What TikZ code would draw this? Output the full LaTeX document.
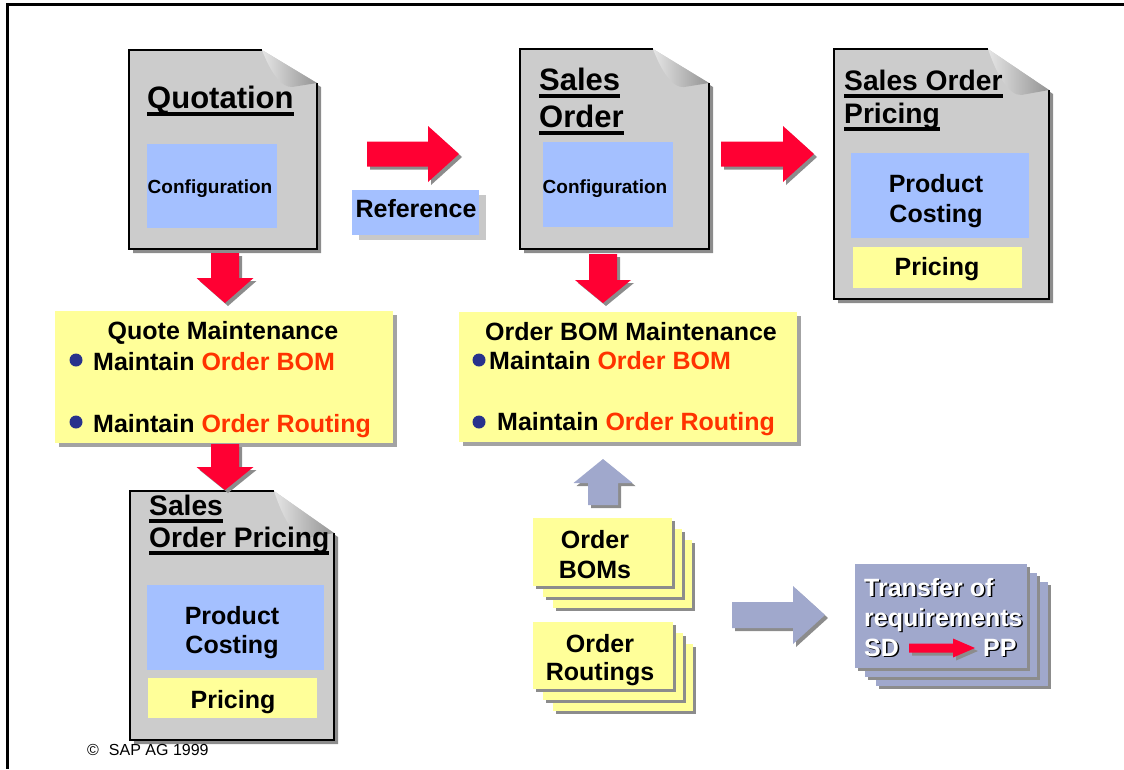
\documentclass[tikz,border=0pt]{standalone}
\usepackage{fontspec}
\setmainfont{Liberation Sans}
\definecolor{docgray}{RGB}{204,204,204}
\definecolor{bluec}{RGB}{164,192,255}
\definecolor{yellowc}{RGB}{255,255,153}
\definecolor{redc}{RGB}{255,0,51}
\definecolor{lavc}{RGB}{160,168,204}
\definecolor{orangec}{RGB}{255,51,0}
\definecolor{navyc}{RGB}{40,50,140}
\definecolor{shadowc}{RGB}{140,140,140}
\definecolor{lightshadow}{RGB}{200,200,200}
\newcommand\tul[1]{\setbox0\hbox{#1}\rlap{\rule[-7.5pt]{\wd0}{3.5pt}}\box0}
% document page with folded corner: L T R B FX FY
\newcommand\docpage[6]{%
  \fill[shadowc] (#1+4,#2+4) -- (#5+4,#2+4) -- (#3+4,#6+4) -- (#3+4,#4+4) -- (#1+4,#4+4) -- cycle;
  \fill[docgray] (#1,#2) -- (#5,#2) -- (#3,#6) -- (#3,#4) -- (#1,#4) -- cycle;
  \draw[line width=1.5pt] (#5,#2) -- (#1,#2) -- (#1,#4) -- (#3,#4) -- (#3,#6);
  \shade[left color=gray!20, right color=gray!85] (#5,#2) .. controls ({#5+0.15*(#3-#5)},{#2+0.65*(#6-#2)}) and ({#5+0.35*(#3-#5)},{#6+0.15*(#6-#2)}) .. ({#5+0.55*(#3-#5)},{#6+0.12*(#6-#2)}) -- (#3,#6) -- cycle;
}
% right block arrow: color x0 x1 x2 yc h H
\newcommand\rarr[7]{%
  \fill[shadowc] (#2+3,#5-#6+3) -- (#3+3,#5-#6+3) -- (#3+3,#5-#7+3) -- (#4+3,#5+3) -- (#3+3,#5+#7+3) -- (#3+3,#5+#6+3) -- (#2+3,#5+#6+3) -- cycle;
  \fill[#1] (#2,#5-#6) -- (#3,#5-#6) -- (#3,#5-#7) -- (#4,#5) -- (#3,#5+#7) -- (#3,#5+#6) -- (#2,#5+#6) -- cycle;}
% vertical block arrow: color xc y0 y1 y2 h H
\newcommand\varr[7]{%
  \fill[shadowc] (#2-#6+3,#3+3) -- (#2+#6+3,#3+3) -- (#2+#6+3,#4+3) -- (#2+#7+3,#4+3) -- (#2+3,#5+3) -- (#2-#7+3,#4+3) -- (#2-#6+3,#4+3) -- cycle;
  \fill[#1] (#2-#6,#3) -- (#2+#6,#3) -- (#2+#6,#4) -- (#2+#7,#4) -- (#2,#5) -- (#2-#7,#4) -- (#2-#6,#4) -- cycle;}
% box with shadow: x1 y1 x2 y2 color dx dy shadowcolor
\newcommand\shbox[8]{%
  \fill[#8] (#1+#6,#2+#7) rectangle (#3+#6,#4+#7);
  \fill[#5] (#1,#2) rectangle (#3,#4);}
\tikzset{
  every node/.style={inner sep=0pt},
  ttlA/.style={anchor=base west, font=\fontsize{31}{36}\selectfont\bfseries},
  ttlB/.style={anchor=base west, font=\fontsize{28.2}{34}\selectfont\bfseries},
  txt/.style={anchor=base, font=\fontsize{25}{29}\selectfont\bfseries},
  txtw/.style={anchor=base west, font=\fontsize{25}{29}\selectfont\bfseries},
  conf/.style={anchor=base, font=\fontsize{19}{22}\selectfont\bfseries},
  bul/.style={fill=navyc},
}
\begin{document}
\begin{tikzpicture}[x=1pt,y=-1pt]
\useasboundingbox (0,0) rectangle (1124,769);
% frame
\draw[line width=3pt] (1124,4.5) -- (7.5,4.5) -- (7.5,769);

% documents
\docpage{129}{50}{317}{249}{262}{83}
\docpage{520}{49}{709}{249}{653}{83}
\docpage{834}{49}{1049}{299}{988}{90}
\docpage{130}{491}{334}{740}{274}{533}

% inner boxes
\fill[bluec] (147,144) rectangle (277,228);
\fill[bluec] (543,142) rectangle (673,227);
\fill[bluec] (851,153) rectangle (1029,238);
\fill[bluec] (147,585) rectangle (324,670);
\fill[yellowc] (853,247) rectangle (1022,288);
\fill[yellowc] (148,678) rectangle (317,718);

% titles
\node[ttlA] (qt) at (147,108) {\tul{Quotation}};
\node[ttlA] (so1) at (539,90) {\tul{Sales}};
\node[ttlA] (so2) at (539,127) {\tul{Order}};
\node[ttlB] (sop1) at (844,90) {\tul{Sales Order}};
\node[ttlB] (sop2) at (844,123) {\tul{Pricing}};
\node[ttlB] (lsp1) at (149,515) {\tul{Sales}};
\node[ttlB] (lsp2) at (149,547) {\tul{Order Pricing}};

\node[conf] (qc) at (210,193) {Configuration};
\node[conf] (sc) at (605,193) {Configuration};
\node[txt] (pc1) at (936,192) {Product};
\node[txt] (pc2) at (936,222) {Costing};
\node[txt] (pr1) at (937,275) {Pricing};
\node[txt] (lpc1) at (232,624) {Product};
\node[txt] (lpc2) at (232,653) {Costing};
\node[txt] (lpr) at (233,708) {Pricing};

% reference
\rarr{redc}{367}{428}{459}{154}{12.5}{28}
\shbox{352}{190}{479}{235}{bluec}{7}{5}{lightshadow}
\node[txt] (ref) at (416,217) {Reference};

% sales order -> pricing
\rarr{redc}{721}{783}{814}{154}{12.5}{28}

% down arrows
\varr{redc}{225}{253}{278}{303}{14}{28.5}
\varr{redc}{603}{254}{280}{303}{14}{28}

% quote maintenance
\shbox{55}{311}{393}{443}{yellowc}{4}{4}{shadowc!80}
\node[txt] (qmt) at (223,339) {Quote Maintenance};
\fill[bul] (76,360) circle[radius=6.5pt];
\node[txtw] (qm1) at (93,370) {Maintain \textcolor{orangec}{Order BOM}};
\fill[bul] (76,422) circle[radius=6.5pt];
\node[txtw] (qm2) at (93,432) {Maintain \textcolor{orangec}{Order Routing}};

\varr{redc}{225}{444}{467}{490}{14}{28.5}

% order BOM maintenance
\shbox{459}{312}{797}{442}{yellowc}{4}{4}{shadowc!80}
\node[txt] (omt) at (631,340) {Order BOM Maintenance};
\fill[bul] (479,360) circle[radius=6.5pt];
\node[txtw] (om1) at (489,369) {Maintain \textcolor{orangec}{Order BOM}};
\fill[bul] (479,422) circle[radius=6.5pt];
\node[txtw] (om2) at (497,430) {Maintain \textcolor{orangec}{Order Routing}};

% up arrow
\varr{lavc}{603}{505}{483}{459}{15}{29.5}

% order BOMs stack
\shbox{553}{540}{692}{608}{yellowc}{3}{3}{shadowc}
\shbox{543}{529}{682}{597}{yellowc}{3}{3}{shadowc}
\shbox{533}{518}{672}{586}{yellowc}{3}{3}{shadowc}
\node[txt] (ob1) at (595,548) {Order};
\node[txt] (ob2) at (595,578) {BOMs};

% order routings stack
\shbox{553}{644}{693}{711}{yellowc}{3}{3}{shadowc}
\shbox{543}{633}{683}{700}{yellowc}{3}{3}{shadowc}
\shbox{533}{622}{673}{689}{yellowc}{3}{3}{shadowc}
\node[txt] (or1) at (600,652) {Order};
\node[txt] (or2) at (600,680) {Routings};

% right lavender arrow
\rarr{lavc}{732}{793}{825}{615}{13}{29}

% transfer stack
\shbox{876}{582}{1048}{686}{lavc}{3}{3}{shadowc}
\shbox{865}{573}{1037}{677}{lavc}{3}{3}{shadowc}
\shbox{855}{564}{1027}{668}{lavc}{3}{3}{shadowc}
\node[txtw, black] (t1s) at (865.5,597.5) {Transfer of};
\node[txtw, white] (t1) at (864,596) {Transfer of};
\node[txtw, black] (t2s) at (865.5,627.5) {requirements};
\node[txtw, white] (t2) at (864,626) {requirements};
\node[txtw, black] (t3s) at (865.5,657.5) {SD};
\node[txtw, white] (t3) at (864,656) {SD};
\node[txtw, black] (t4s) at (984.5,657.5) {PP};
\node[txtw, white] (t4) at (983,656) {PP};
\rarr{redc}{909}{953}{975}{648}{4.5}{9.5}

% copyright
\node[anchor=base west, font=\fontsize{16}{18}\selectfont] (copy) at (87,755) {©\hspace{10pt}SAP AG 1999};
\end{tikzpicture}
\end{document}
